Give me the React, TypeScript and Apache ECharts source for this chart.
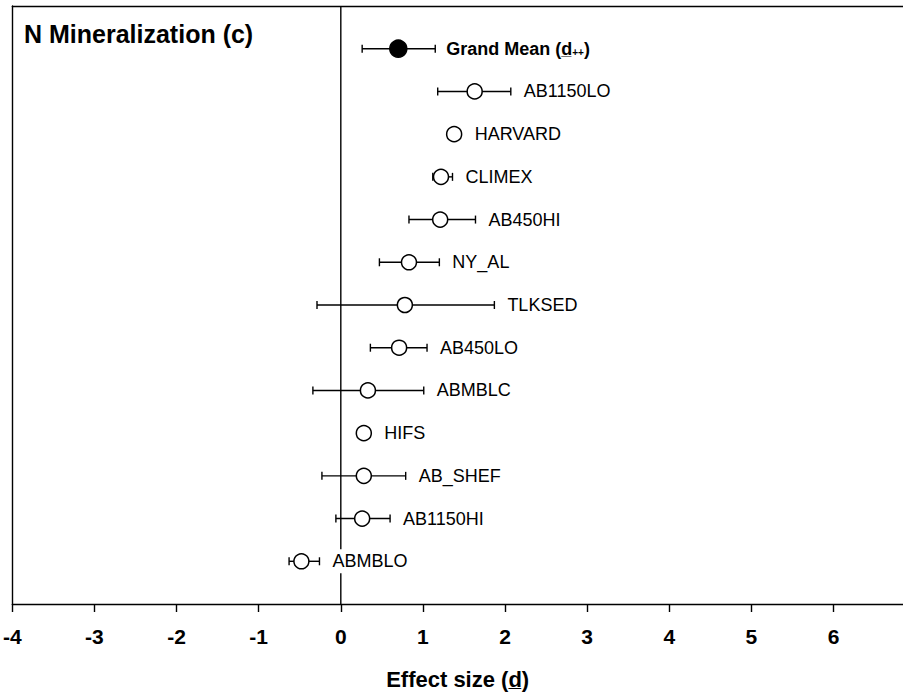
import React, { useEffect, useRef } from "react";
import * as echarts from "echarts";

// Rows listed top to bottom
const studies = [
  "Grand Mean",
  "AB1150LO",
  "HARVARD",
  "CLIMEX",
  "AB450HI",
  "NY_AL",
  "TLKSED",
  "AB450LO",
  "ABMBLC",
  "HIFS",
  "AB_SHEF",
  "AB1150HI",
  "ABMBLO",
];
const effectSize = [0.7, 1.63, 1.38, 1.22, 1.21, 0.83, 0.78, 0.71, 0.33, 0.28, 0.28, 0.26, -0.48];
const lowerCI = [0.26, 1.18, 1.38, 1.12, 0.83, 0.47, -0.29, 0.36, -0.34, 0.28, -0.23, -0.06, -0.63];
const upperCI = [1.15, 2.07, 1.38, 1.36, 1.64, 1.2, 1.87, 1.05, 1.01, 0.28, 0.79, 0.6, -0.26];
const xTicks = [-4, -3, -2, -1, 0, 1, 2, 3, 4, 5, 6];

const FONT = "'Liberation Sans', Arial, Helvetica, sans-serif";

export default function App() {
  const ref = useRef<HTMLDivElement>(null);
  useEffect(() => {
    if (!ref.current) return;
    const chart = echarts.init(ref.current, undefined, { renderer: "svg" });
    const n = studies.length;
    const data = studies.map((s, i) => [n - 1 - i, effectSize[i], lowerCI[i], upperCI[i]]);

    const axisLineStyle = { color: "#000", width: 1.4 };

    const option: any = {
      animation: false,
      backgroundColor: "#fff",
      grid: {
        left: 10,
        right: 0,
        top: 6,
        bottom: 92,
        show: false,
      },
      xAxis: [
        {
          type: "value",
          min: -4,
          max: 6.846,
          interval: 1,
          splitLine: { show: false },
          axisLine: { show: true, onZero: false, lineStyle: axisLineStyle },
          axisTick: { show: true, length: 8, lineStyle: axisLineStyle },
          axisLabel: {
            margin: 22,
            color: "#000",
            fontFamily: FONT,
            fontWeight: "bold",
            fontSize: 21,
            showMaxLabel: false,
            formatter: (v: number) => (xTicks.includes(v) ? String(v) : ""),
          },
          name: "Effect size (d\u0332)",
          nameLocation: "middle",
          nameGap: 64,
          nameTextStyle: { color: "#000", fontFamily: FONT, fontWeight: "bold", fontSize: 22 },
        },
        {
          type: "value",
          position: "top",
          min: -4,
          max: 6.846,
          interval: 1,
          splitLine: { show: false },
          axisLine: { show: true, onZero: false, lineStyle: axisLineStyle },
          axisTick: { show: false },
          axisLabel: { show: false },
        },
      ],
      yAxis: {
        type: "value",
        min: -1,
        max: 13,
        show: true,
        axisLine: { show: true, onZero: false, lineStyle: axisLineStyle },
        axisTick: { show: false },
        axisLabel: { show: false },
        splitLine: { show: false },
      },
      graphic: [
        {
          type: "text",
          left: 24,
          top: 21,
          style: {
            text: "N Mineralization (c)",
            fill: "#000",
            font: `bold 25px ${FONT}`,
          },
        },
      ],
      series: [
        {
          type: "custom",
          z: 1,
          data: [[0]],
          renderItem: (params: any, api: any) => {
            const top = api.coord([0, 13]);
            const bottom = api.coord([0, -1]);
            return {
              type: "line",
              shape: { x1: top[0], y1: top[1], x2: bottom[0], y2: bottom[1] },
              style: { stroke: "#000", lineWidth: 1.4 },
            };
          },
        },
        {
          type: "custom",
          z: 2,
          data,
          encode: { x: [1, 2, 3], y: 0 },
          renderItem: (params: any, api: any) => {
            const row = api.value(0);
            const m = api.coord([api.value(1), row]);
            const lo = api.coord([api.value(2), row]);
            const hi = api.coord([api.value(3), row]);
            const i = params.dataIndex;
            const isMean = i === 0;
            const r = isMean ? 8.5 : 7.5;
            const children: any[] = [];
            const cap = 4;
            if (hi[0] - lo[0] > 1) {
              children.push({
                type: "line",
                shape: { x1: lo[0], y1: m[1], x2: hi[0], y2: m[1] },
                style: { stroke: "#000", lineWidth: 1.4 },
              });
              children.push({
                type: "line",
                shape: { x1: lo[0], y1: m[1] - cap, x2: lo[0], y2: m[1] + cap },
                style: { stroke: "#000", lineWidth: 1.4 },
              });
              children.push({
                type: "line",
                shape: { x1: hi[0], y1: m[1] - cap, x2: hi[0], y2: m[1] + cap },
                style: { stroke: "#000", lineWidth: 1.4 },
              });
            }
            children.push({
              type: "circle",
              shape: { cx: m[0], cy: m[1], r },
              style: { fill: isMean ? "#000" : "#fff", stroke: "#000", lineWidth: 1.5 },
            });
            const labelX = Math.max(hi[0], m[0] + r) + 11;
            if (isMean) {
              children.push({
                type: "text",
                x: labelX,
                y: m[1],
                style: {
                  text: "{b|Grand Mean (}{u|d\u0332}{s|++}{b|)}",
                  verticalAlign: "middle",
                  align: "left",
                  rich: {
                    b: { font: `bold 18px ${FONT}`, fill: "#000" },
                    u: { font: `bold 18px ${FONT}`, fill: "#000" },
                    s: { font: `bold 10px ${FONT}`, fill: "#000", verticalAlign: "bottom", padding: [8, 0, 0, 0] },
                  },
                },
              });
            } else {
              children.push({
                type: "text",
                x: labelX,
                y: m[1],
                style: {
                  text: studies[i],
                  fill: "#000",
                  font: `18px ${FONT}`,
                  verticalAlign: "middle",
                  align: "left",
                  backgroundColor: "#fff",
                  padding: [3, 2, 3, 2],
                },
              });
            }
            return { type: "group", children };
          },
        },
      ],
    };
    chart.setOption(option);
    return () => chart.dispose();
  }, []);
  return (
    <div
      ref={ref}
      style={{ position: "fixed", left: 0, top: 0, width: 903, height: 696 }}
    />
  );
}
